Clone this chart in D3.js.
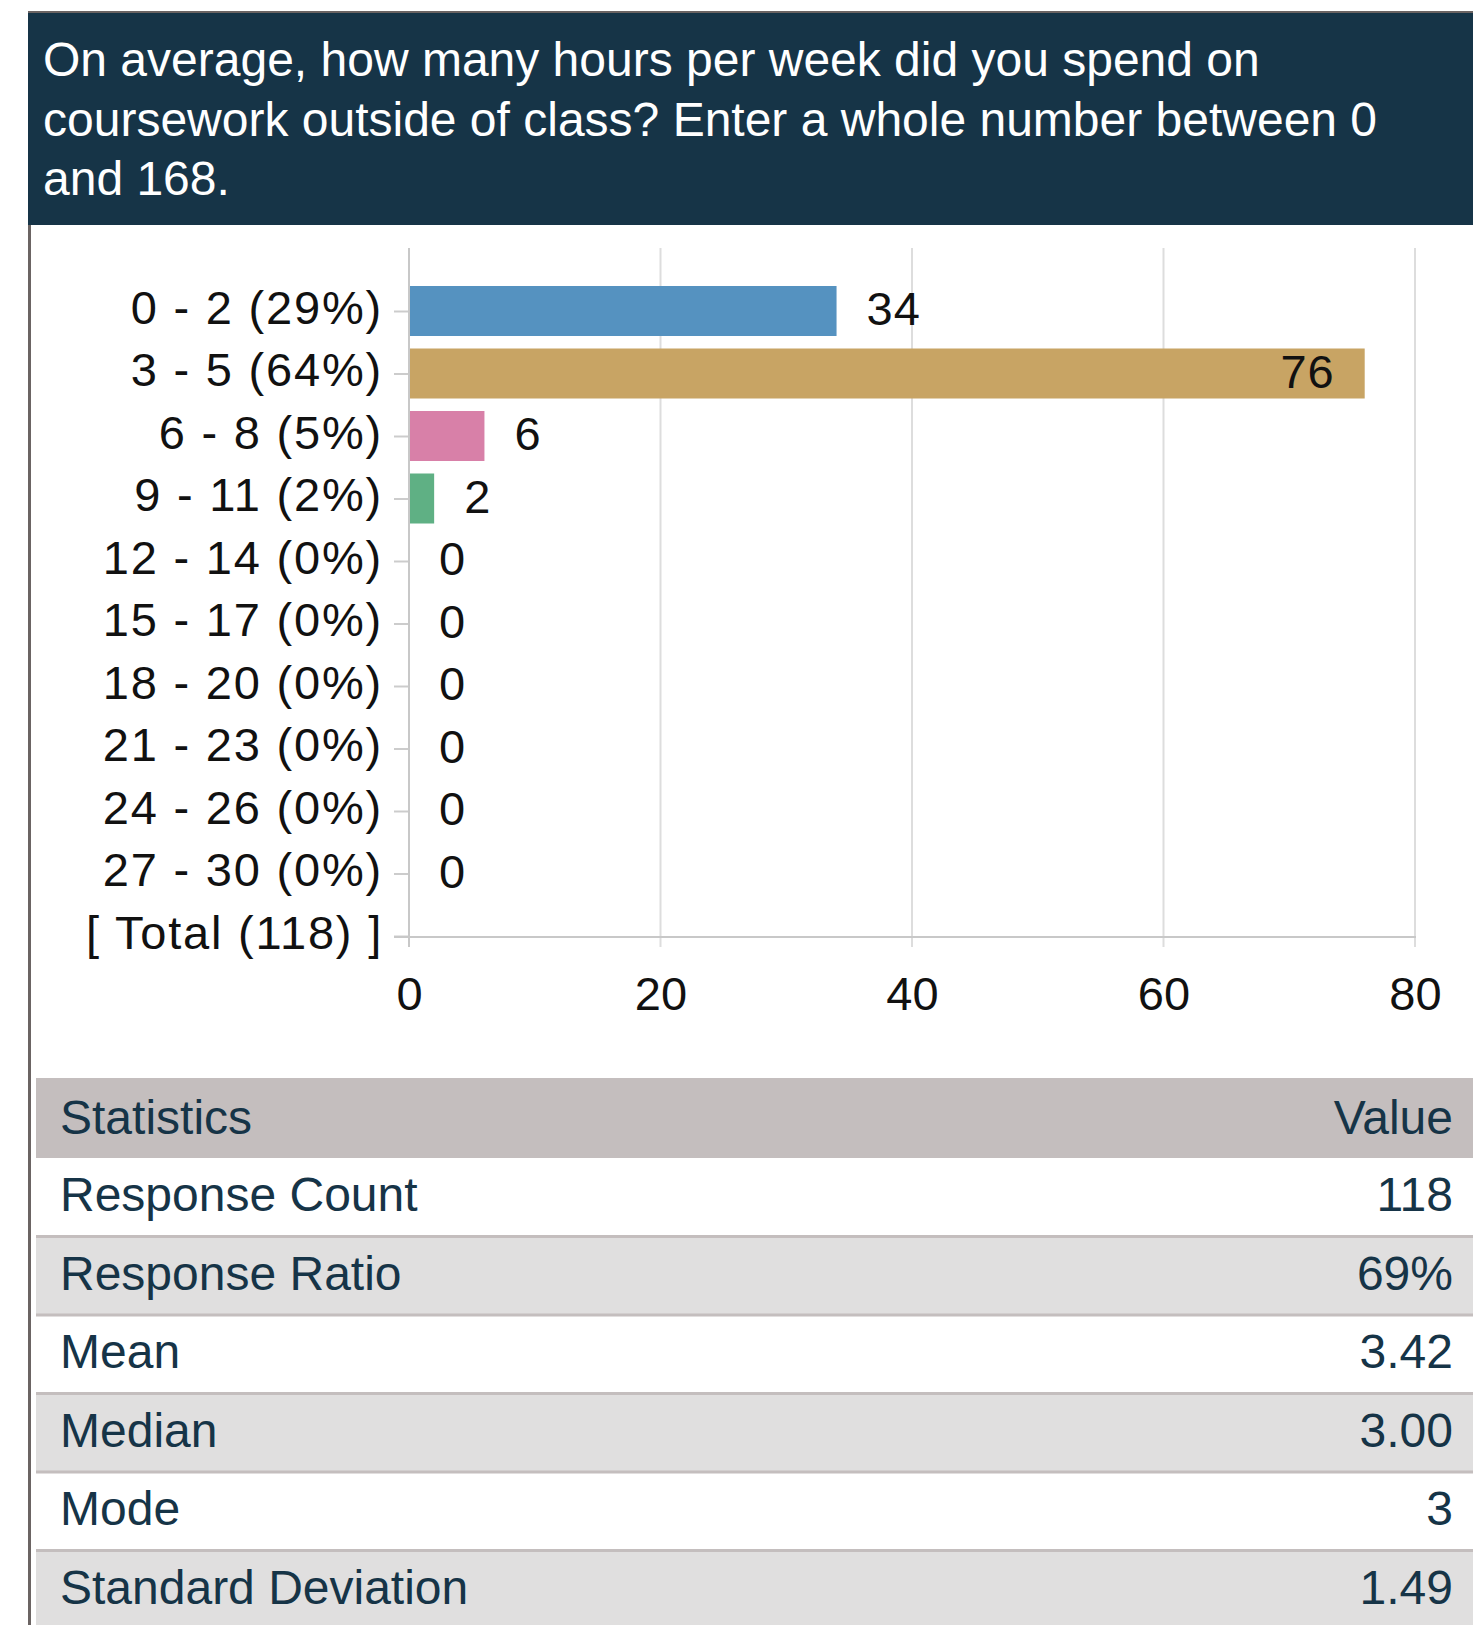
<!DOCTYPE html>
<html>
<head>
<meta charset="utf-8">
<script src="https://cdnjs.cloudflare.com/ajax/libs/d3/7.8.5/d3.min.js"></script>
<style>
  body { margin: 0; background: #fff; }
  svg { display: block; font-family: "Liberation Sans", Arial, sans-serif; }
</style>
</head>
<body>
<svg id="chart"></svg>
<script>
// data ------------------------------------------
var titleLines = [
    "On average, how many hours per week did you spend on",
    "coursework outside of class? Enter a whole number between 0",
    "and 168."
];
var categories = ["0 - 2 (29%)", "3 - 5 (64%)", "6 - 8 (5%)", "9 - 11 (2%)", "12 - 14 (0%)",
    "15 - 17 (0%)", "18 - 20 (0%)", "21 - 23 (0%)", "24 - 26 (0%)", "27 - 30 (0%)", "[ Total (118) ]"];
var counts = [34, 76, 6, 2, 0, 0, 0, 0, 0, 0];
var barColors = ["#5592c0", "#c8a464", "#d880a8", "#5fb084", "#5592c0", "#c8a464", "#d880a8", "#5fb084", "#5592c0", "#c8a464"];
var xTicks = [0, 20, 40, 60, 80];
var statNames = ["Response Count", "Response Ratio", "Mean", "Median", "Mode", "Standard Deviation"];
var statValues = ["118", "69%", "3.42", "3.00", "3", "1.49"];

var W = 1473, H = 1625;
var svg = d3.select("#chart").attr("width", W).attr("height", H);

// frame + title -------------------------------
svg.append("rect").attr("x", 28).attr("y", 11).attr("width", W - 28).attr("height", 3).attr("fill", "#6b6463");
svg.append("rect").attr("x", 28).attr("y", 13).attr("width", W - 28).attr("height", 212).attr("fill", "#163447");
svg.append("rect").attr("x", 28).attr("y", 225).attr("width", 3).attr("height", H - 225).attr("fill", "#6b6463");

svg.append("g").selectAll("text").data(titleLines).enter().append("text")
    .attr("x", 43)
    .attr("y", function(d, i){ return 76 + i * 59.5; })
    .attr("fill", "#fff")
    .style("font-size", "48px")
    .text(function(d){ return d; });

// bar chart -----------------------------------
var x = d3.scaleLinear().domain([0, 80]).range([409, 1415]);
var y = d3.scalePoint().domain(categories).range([311, 936]);
var barH = 50;

var grid = svg.append("g");
grid.selectAll("line").data(xTicks.slice(1)).enter().append("line")
    .attr("x1", function(d){ return x(d); }).attr("x2", function(d){ return x(d); })
    .attr("y1", 248).attr("y2", 947)
    .attr("stroke", "#dddddd").attr("stroke-width", 2);

var bars = svg.append("g");
bars.selectAll("rect").data(counts).enter().append("rect")
    .attr("x", x(0))
    .attr("y", function(d, i){ return y(categories[i]) - barH / 2; })
    .attr("width", function(d){ return x(d) - x(0); })
    .attr("height", barH)
    .attr("fill", function(d, i){ return barColors[i]; });

// value labels
bars.selectAll("text").data(counts).enter().append("text")
    .attr("x", function(d){ return d > 60 ? x(d) - 30 : x(d) + 30; })
    .attr("y", function(d, i){ return y(categories[i]) + 14; })
    .attr("text-anchor", function(d){ return d > 60 ? "end" : "start"; })
    .attr("fill", "#111")
    .style("font-size", "47px")
    .style("letter-spacing", "1px")
    .text(function(d){ return d; });

// left axis
var yAxis = svg.append("g").attr("transform", "translate(409,0)")
    .call(d3.axisLeft(y).tickSize(15).tickPadding(11));
yAxis.select(".domain").remove();
yAxis.selectAll(".tick line").attr("stroke", "#cccccc").attr("stroke-width", 2);
yAxis.selectAll(".tick text").attr("fill", "#111").attr("dy", null).attr("y", 12)
    .style("font-size", "47px").style("letter-spacing", "1.8px")
    .style("font-family", "'Liberation Sans', Arial, sans-serif");
svg.append("line").attr("x1", 409).attr("x2", 409).attr("y1", 248).attr("y2", 947)
    .attr("stroke", "#c8c8c8").attr("stroke-width", 2);

// bottom axis
var xAxis = svg.append("g").attr("transform", "translate(0,937)")
    .call(d3.axisBottom(x).tickValues(xTicks).tickSize(10).tickPadding(30));
xAxis.select(".domain").remove();
xAxis.selectAll(".tick line").remove();
xAxis.selectAll(".tick text").attr("fill", "#111").attr("dy", null).attr("y", 73)
    .style("font-size", "47px").style("font-family", "'Liberation Sans', Arial, sans-serif");
svg.append("line").attr("x1", 394).attr("x2", 1416).attr("y1", 937).attr("y2", 937)
    .attr("stroke", "#c8c8c8").attr("stroke-width", 2);

// statistics table ----------------------------
var tx = 36, tw = W - 36;
var headTop = 1078, headH = 80, rowH = 78.5;
var table = svg.append("g");
table.append("rect").attr("x", tx).attr("y", headTop).attr("width", tw).attr("height", headH).attr("fill", "#c4bebe");
table.append("text").attr("x", 60).attr("y", headTop + 56).attr("fill", "#163447")
    .style("font-size", "48px").text("Statistics");
table.append("text").attr("x", 1453).attr("y", headTop + 56).attr("fill", "#163447")
    .attr("text-anchor", "end").style("font-size", "48px").text("Value");

var rows = table.selectAll("g.row").data(statNames).enter().append("g").attr("class", "row")
    .attr("transform", function(d, i){ return "translate(0," + (headTop + headH + i * rowH) + ")"; });
rows.append("rect").attr("x", tx).attr("y", 0).attr("width", tw).attr("height", rowH)
    .attr("fill", function(d, i){ return i % 2 ? "#e0dfdf" : "#ffffff"; });
rows.filter(function(d, i){ return i > 0; }).append("rect")
    .attr("x", tx).attr("y", -1.5).attr("width", tw).attr("height", 3).attr("fill", "#c4bebe");
rows.append("text").attr("x", 60).attr("y", 53).attr("fill", "#163447")
    .style("font-size", "48px").text(function(d){ return d; });
rows.append("text").attr("x", 1453).attr("y", 53).attr("fill", "#163447").attr("text-anchor", "end")
    .style("font-size", "48px").text(function(d, i){ return statValues[i]; });
</script>
</body>
</html>
